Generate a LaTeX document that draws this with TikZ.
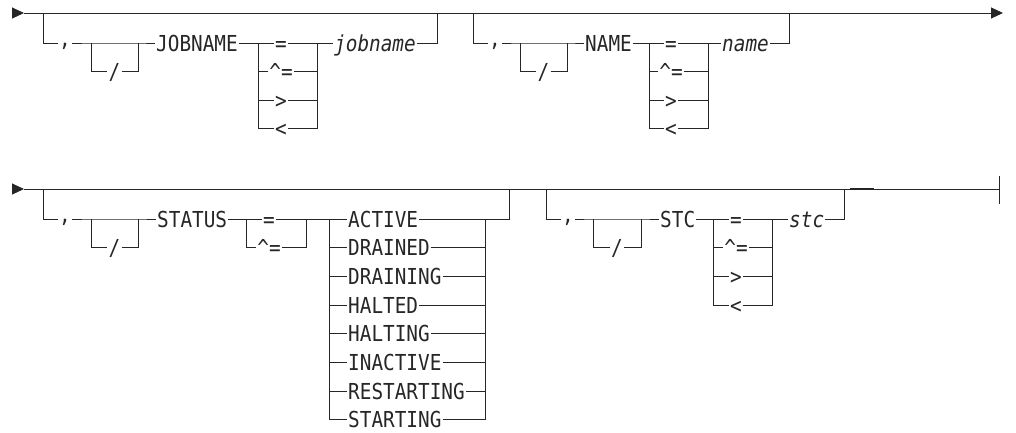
\documentclass[tikz,border=0pt]{standalone}
\usepackage{fontspec}
\usetikzlibrary{arrows.meta, positioning}
\newfontfamily\rrfont[FakeStretch=0.88]{DejaVu Sans Mono}

\begin{document}
\begin{tikzpicture}[
    x=1pt, y=-1pt,
    rail/.style={line width=1pt, draw=black!85},
    word/.style={font=\rrfont\fontsize{22}{22}\selectfont, text=black!85, inner xsep=1pt, inner ysep=0pt, text height=16pt, text depth=0pt},
    var/.style={word, font=\rrfont\fontsize{22}{22}\selectfont\itshape},
    comma/.style={word, text height=7pt},
    tip/.style={-{Triangle[length=12pt, width=11pt]}}
]
\useasboundingbox (0,0) rectangle (1016,432);

% Main lines
\coordinate (m1s) at (12,13);
\coordinate (m1a) at (24,13);
\coordinate (m1e) at (1003,13);
\draw[rail, tip] (m1s) -- (m1a);
\draw[rail, tip] (m1a) -- (m1e);

\coordinate (m2s) at (12,189);
\coordinate (m2a) at (24,189);
\coordinate (m2e) at (999,189);
\draw[rail, tip] (m2s) -- (m2a);
\draw[rail] (m2a) -- (m2e);
\draw[rail] ([yshift=13pt]m2e) -- ([yshift=-15pt]m2e);
\draw[rail, line width=2.2pt] (850,189) -- (874,189);

% JOBNAME
\coordinate (j0) at (43,13);
\coordinate (j9) at (437,13);
\node[comma] (jc) at (65,43) {,};
\coordinate (jb1) at (91,43);
\coordinate (jb2) at (138,43);
\node[word] (js) at (114.5,71.5) {/};
\node[word, anchor=west] (jkw) at (155,43) {JOBNAME};
\coordinate (jl) at (258,43);
\coordinate (jr) at (317,43);
\node[var, anchor=west] (jv) at (333,43) {jobname};

\draw[rail] (j0) |- (jc.west);
\draw[rail] (jc.east) -- (jb1) -- (jb2) -- (jkw.west);
\draw[rail] (jb1) |- (js.west);
\draw[rail] (js.east) -| (jb2);
\draw[rail] (jkw.east) -- (jl);
\foreach \op [count=\i] in {{=},{\textasciicircum=},{>},{<}} {
  \node[word] (jop\i) at (281,{43+28.5*(\i-1)}) {\op};
  \draw[rail] (jl) |- (jop\i.west);
  \draw[rail] (jop\i.east) -| (jr);
}
\draw[rail] (jr) -- (jv.west);
\draw[rail] (jv.east) -| (j9);

% NAME
\coordinate (n0) at (473,13);
\coordinate (n9) at (789,13);
\node[comma] (nc) at (495,43) {,};
\coordinate (nb1) at (520,43);
\coordinate (nb2) at (567,43);
\node[word] (ns) at (543.5,71.5) {/};
\node[word, anchor=west] (nkw) at (584,43) {NAME};
\coordinate (nl) at (649,43);
\coordinate (nr) at (708,43);
\node[var, anchor=west] (nv) at (721,43) {name};

\draw[rail] (n0) |- (nc.west);
\draw[rail] (nc.east) -- (nb1) -- (nb2) -- (nkw.west);
\draw[rail] (nb1) |- (ns.west);
\draw[rail] (ns.east) -| (nb2);
\draw[rail] (nkw.east) -- (nl);
\foreach \op [count=\i] in {{=},{\textasciicircum=},{>},{<}} {
  \node[word] (nop\i) at (671,{43+28.5*(\i-1)}) {\op};
  \draw[rail] (nl) |- (nop\i.west);
  \draw[rail] (nop\i.east) -| (nr);
}
\draw[rail] (nr) -- (nv.west);
\draw[rail] (nv.east) -| (n9);

% STATUS
\coordinate (s0) at (43,189);
\coordinate (s9) at (509,189);
\node[comma] (sc) at (65,219) {,};
\coordinate (sb1) at (91,219);
\coordinate (sb2) at (138,219);
\node[word] (ss) at (114.5,247.7) {/};
\node[word, anchor=west] (skw) at (156,219) {STATUS};
\coordinate (sl) at (246,219);
\coordinate (sr) at (306,219);
\coordinate (tl) at (329,219);
\coordinate (tr) at (485,219);

\draw[rail] (s0) |- (sc.west);
\draw[rail] (sc.east) -- (sb1) -- (sb2) -- (skw.west);
\draw[rail] (sb1) |- (ss.west);
\draw[rail] (ss.east) -| (sb2);
\draw[rail] (skw.east) -- (sl);
\foreach \op [count=\i] in {{=},{\textasciicircum=}} {
  \node[word] (sop\i) at (269,{219+28.7*(\i-1)}) {\op};
  \draw[rail] (sl) |- (sop\i.west);
  \draw[rail] (sop\i.east) -| (sr);
}
\draw[rail] (sr) -- (tl);
\foreach \st [count=\i] in {ACTIVE, DRAINED, DRAINING, HALTED, HALTING, INACTIVE, RESTARTING, STARTING} {
  \node[word, anchor=west] (st\i) at (347,{219+28.7*(\i-1)}) {\st};
  \draw[rail] (tl) |- (st\i.west);
  \draw[rail] (st\i.east) -| (tr);
}
\draw[rail] (tr) -| (s9);

% STC
\coordinate (c0) at (546,189);
\coordinate (c9) at (844,189);
\node[comma] (cc) at (568,219) {,};
\coordinate (cb1) at (593,219);
\coordinate (cb2) at (641,219);
\node[word] (cs) at (617,247.7) {/};
\node[word, anchor=west] (ckw) at (659,219) {STC};
\coordinate (cl) at (713,219);
\coordinate (cr) at (772,219);
\node[var, anchor=west] (cv) at (788,219) {stc};

\draw[rail] (c0) |- (cc.west);
\draw[rail] (cc.east) -- (cb1) -- (cb2) -- (ckw.west);
\draw[rail] (cb1) |- (cs.west);
\draw[rail] (cs.east) -| (cb2);
\draw[rail] (ckw.east) -- (cl);
\foreach \op [count=\i] in {{=},{\textasciicircum=},{>},{<}} {
  \node[word] (cop\i) at (736,{219+28.7*(\i-1)}) {\op};
  \draw[rail] (cl) |- (cop\i.west);
  \draw[rail] (cop\i.east) -| (cr);
}
\draw[rail] (cr) -- (cv.west);
\draw[rail] (cv.east) -| (c9);

\end{tikzpicture}
\end{document}
